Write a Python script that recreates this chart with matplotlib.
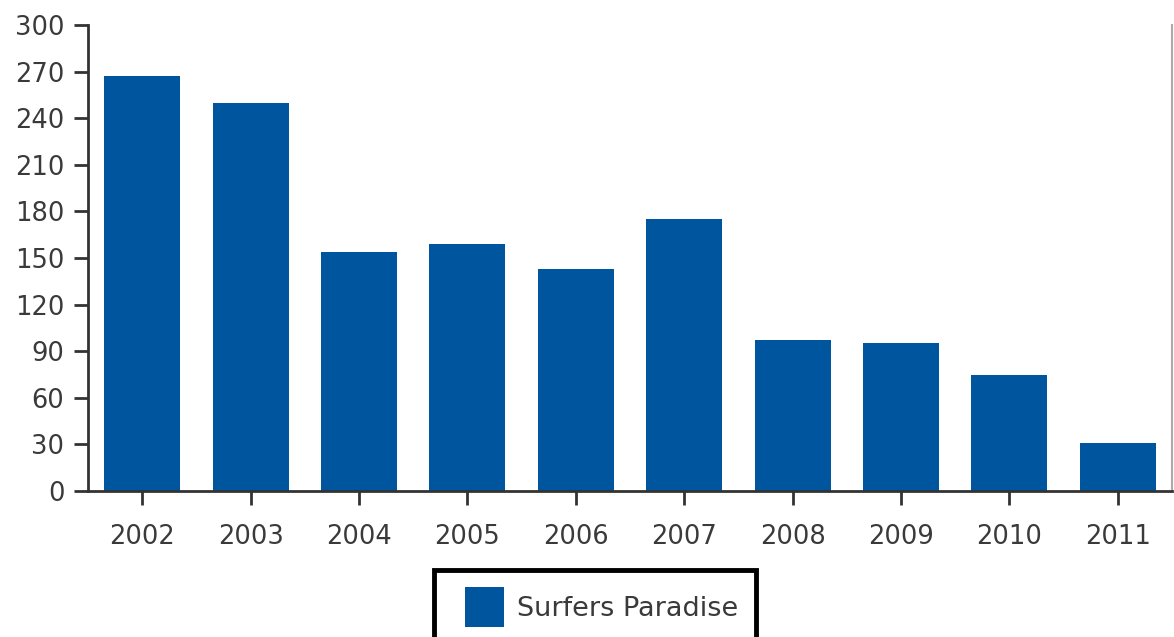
import matplotlib
matplotlib.use("Agg")
import matplotlib.pyplot as plt
from matplotlib.container import BarContainer
from matplotlib.legend_handler import HandlerPatch
from matplotlib.patches import Rectangle
import numpy as np

years = ["2002", "2003", "2004", "2005", "2006", "2007", "2008", "2009", "2010", "2011"]
surfers_paradise = [267, 250, 154, 159, 143, 175, 97, 95, 75, 31]
y_ticks = [0, 30, 60, 90, 120, 150, 180, 210, 240, 270, 300]

bar_color = "#00559f"
text_color = "#3a3a3a"

fig = plt.figure(figsize=(11.74, 6.37), dpi=100)
ax = fig.add_axes([88 / 1174, 146 / 637, 1084 / 1174, 466 / 637])

x = np.arange(len(years))
ax.bar(x, surfers_paradise, width=0.7, color=bar_color, label="Surfers Paradise")

ax.set_xlim(-0.5, len(years) - 0.5)
ax.set_ylim(0, 300)
ax.set_xticks(x)
ax.set_xticklabels(years)
ax.set_yticks(y_ticks)

ax.tick_params(axis="both", labelsize=18.5, colors="#333333", labelcolor=text_color,
               length=10, width=2)
ax.tick_params(axis="x", pad=14)
ax.tick_params(axis="y", pad=7)

for side in ["left", "bottom"]:
    ax.spines[side].set_color("#333333")
    ax.spines[side].set_linewidth(2)
ax.spines["top"].set_visible(False)
ax.spines["right"].set_color("#aaaaaa")
ax.spines["right"].set_linewidth(1.5)


# square swatch pushed to the right of a wider handle box (extra left padding)
def square_patch(legend, orig_handle, xdescent, ydescent, width, height, fontsize):
    return Rectangle((-xdescent + width - height, -ydescent), height, height)


def copy_style(legend_handle, orig_handle):
    legend_handle.update_from(orig_handle[0])


leg = fig.legend(loc="upper center", bbox_to_anchor=(595 / 1174, 1 - 570 / 637),
                 fontsize=19.5, frameon=True, fancybox=False, framealpha=1,
                 handlelength=1.96, handleheight=1.89, borderpad=0.63,
                 handletextpad=0.48, borderaxespad=0,
                 handler_map={BarContainer: HandlerPatch(patch_func=square_patch,
                                                         update_func=copy_style)})
leg.get_frame().set_edgecolor("black")
leg.get_frame().set_linewidth(3.5)
for t in leg.get_texts():
    t.set_color(text_color)

fig.savefig("out.png", dpi=100)
